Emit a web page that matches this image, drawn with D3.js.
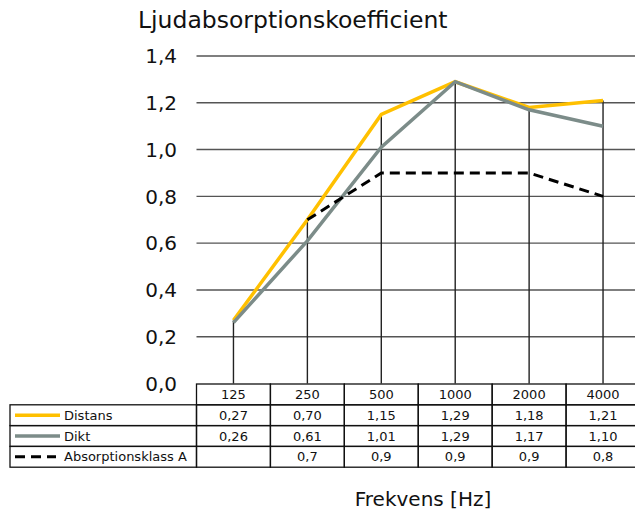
<!DOCTYPE html>
<html>
<head>
<meta charset="utf-8">
<script src="https://cdn.jsdelivr.net/npm/d3@7"></script>
<style>
  body { margin: 0; background: #fff; }
  text { font-family: "DejaVu Sans", Verdana, sans-serif; fill: #111; }
</style>
</head>
<body>
<div id="chart"></div>
<script>
var width = 635,
  height = 514;

// data
var freqs = ["125", "250", "500", "1000", "2000", "4000"];
var distans = [0.27, 0.70, 1.15, 1.29, 1.18, 1.21];
var dikt = [0.26, 0.61, 1.01, 1.29, 1.17, 1.10];
var klassA = [null, 0.7, 0.9, 0.9, 0.9, 0.8];
var yTicks = [0, 0.2, 0.4, 0.6, 0.8, 1.0, 1.2, 1.4];

var series = [
  { name: "Distans", values: distans, color: "#ffc000", dash: null, width: 3.5, digits: 2 },
  { name: "Dikt", values: dikt, color: "#7c8c89", dash: null, width: 3.5, digits: 2 },
  { name: "Absorptionsklass A", values: klassA, color: "#000", dash: "10,6", width: 3, digits: 1 }
];

var sv = d3.formatLocale({ decimal: ",", thousands: " ", grouping: [3], currency: ["", ""] });

var svg = d3.select("#chart")
  .append("svg")
  .attr("width", width)
  .attr("height", height);

var x = d3.scaleBand().domain(freqs).range([196.5, 640]);
var y = d3.scaleLinear().domain([0, 1.4]).range([383.5, 56]);

// title
svg.append("text")
  .attr("x", 138)
  .attr("y", 28)
  .style("font-size", "23.5px")
  .text("Ljudabsorptionskoefficient");

// horizontal gridlines
svg.selectAll(".grid")
  .data(yTicks.filter(function (d) { return d > 0; }))
  .enter()
  .append("line")
  .attr("x1", 196.5)
  .attr("x2", width)
  .attr("y1", function (d) { return y(d); })
  .attr("y2", function (d) { return y(d); })
  .attr("stroke", "#555")
  .attr("stroke-width", 1.4);

// y labels
svg.selectAll(".ylab")
  .data(yTicks)
  .enter()
  .append("text")
  .attr("x", 177)
  .attr("y", function (d) { return y(d); })
  .attr("dy", "0.36em")
  .attr("text-anchor", "end")
  .style("font-size", "20px")
  .text(function (d) { return sv.format(".1f")(d); });

// drop lines from the highest value to the axis
svg.selectAll(".drop")
  .data(freqs)
  .enter()
  .append("line")
  .attr("x1", function (d) { return x(d) + x.bandwidth() / 2; })
  .attr("x2", function (d) { return x(d) + x.bandwidth() / 2; })
  .attr("y1", function (d, i) {
    return y(d3.max(series, function (s) { return s.values[i]; }));
  })
  .attr("y2", y(0))
  .attr("stroke", "#222")
  .attr("stroke-width", 1.4);

// lines
var line = d3.line()
  .defined(function (d) { return d != null; })
  .x(function (d, i) { return x(freqs[i]) + x.bandwidth() / 2; })
  .y(function (d) { return y(d); });

series.forEach(function (s) {
  svg.append("path")
    .datum(s.values)
    .attr("d", line)
    .attr("fill", "none")
    .attr("stroke", s.color)
    .attr("stroke-width", s.width)
    .attr("stroke-dasharray", s.dash);
});

// data table
var rowTop = 384, rowH = 20.8, legLeft = 10;
var tbl = svg.append("g").attr("class", "table");

// header cells
tbl.selectAll(".head")
  .data(freqs)
  .enter()
  .append("rect")
  .attr("x", function (d) { return x(d); })
  .attr("y", rowTop)
  .attr("width", x.bandwidth())
  .attr("height", rowH)
  .attr("fill", "none")
  .attr("stroke", "#111")
  .attr("stroke-width", 1.3);

tbl.selectAll(".headtxt")
  .data(freqs)
  .enter()
  .append("text")
  .attr("x", function (d) { return x(d) + x.bandwidth() / 2; })
  .attr("y", rowTop + rowH / 2)
  .attr("dy", "0.36em")
  .attr("text-anchor", "middle")
  .style("font-size", "13px")
  .text(function (d) { return d; });

series.forEach(function (s, r) {
  var top = rowTop + rowH * (r + 1);
  var cy = top + rowH / 2;

  tbl.append("rect")
    .attr("x", legLeft)
    .attr("y", top)
    .attr("width", x.range()[0] - legLeft)
    .attr("height", rowH)
    .attr("fill", "none")
    .attr("stroke", "#111")
    .attr("stroke-width", 1.3);

  tbl.append("line")
    .attr("x1", 15)
    .attr("x2", s.dash ? 56 : 60)
    .attr("y1", cy)
    .attr("y2", cy)
    .attr("stroke", s.color)
    .attr("stroke-width", s.width)
    .attr("stroke-dasharray", s.dash);

  tbl.append("text")
    .attr("x", 64)
    .attr("y", cy)
    .attr("dy", "0.36em")
    .style("font-size", "13px")
    .text(s.name);

  freqs.forEach(function (f, i) {
    tbl.append("rect")
      .attr("x", x(f))
      .attr("y", top)
      .attr("width", x.bandwidth())
      .attr("height", rowH)
      .attr("fill", "none")
      .attr("stroke", "#111")
      .attr("stroke-width", 1.3);
    if (s.values[i] != null) {
      tbl.append("text")
        .attr("x", x(f) + x.bandwidth() / 2)
        .attr("y", cy)
        .attr("dy", "0.36em")
        .attr("text-anchor", "middle")
        .style("font-size", "13px")
        .text(sv.format("." + s.digits + "f")(s.values[i]));
    }
  });
});

// x axis title
svg.append("text")
  .attr("x", 423)
  .attr("y", 506)
  .attr("text-anchor", "middle")
  .style("font-size", "20px")
  .text("Frekvens [Hz]");
</script>
</body>
</html>
